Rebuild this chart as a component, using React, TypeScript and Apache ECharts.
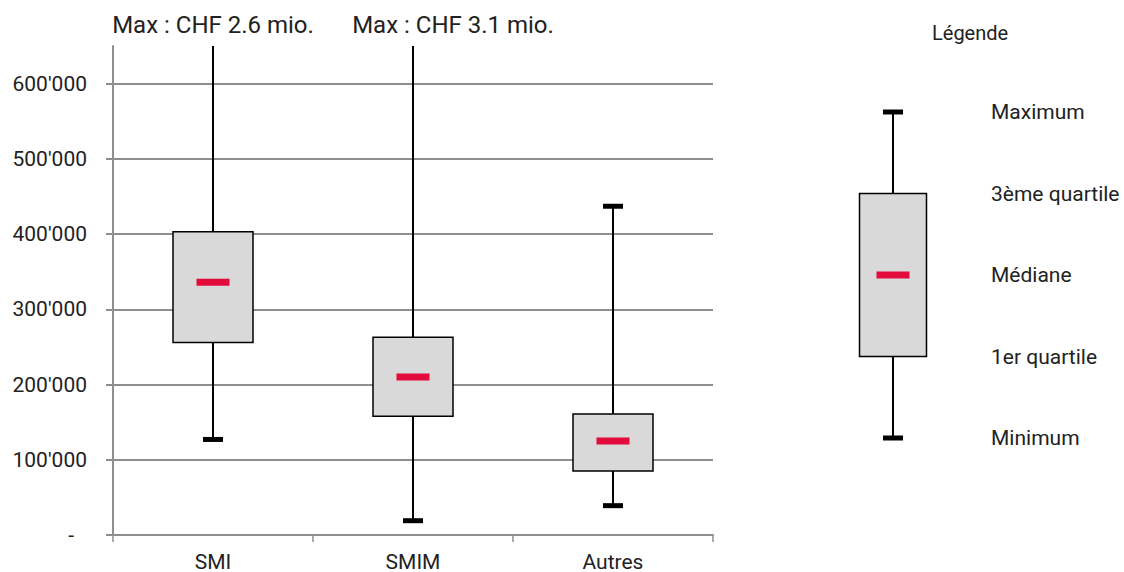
import React, { useEffect, useRef } from "react";
import * as echarts from "echarts";

// Categories and five-number summaries (CHF)
const categories = ["SMI", "SMIM", "Autres"];
const minimums = [127000, 19000, 39000];
const firstQuartiles = [256000, 158000, 85000];
const medians = [336000, 210000, 125000];
const thirdQuartiles = [403000, 263000, 161000];
const maximums = [2600000, 3100000, 437000];

// Value axis
const yMax = 650000;
const yTicks = [0, 100000, 200000, 300000, 400000, 500000, 600000];

// Key: sample box on a 0–100 scale with its labels
const legendStats = [0, 25, 50, 75, 100];
const legendLabels = ["Minimum", "1er quartile", "Médiane", "3ème quartile", "Maximum"];

// Horizontal offset of each "Max" note relative to its category
const noteOffsets = [0, 40, 0];

const FONT = "Roboto";
const TEXT = "#222222";
const GRID_GREY = "#8e8e8e";
const BOX_FILL = "#d9d9d9";
const MEDIAN_RED = "#e30b3c";

const fmtThousands = (v: number) =>
  String(Math.round(v)).replace(/\B(?=(\d{3})+(?!\d))/g, "'");

function makeRenderItem(boxFrac: number, axisMax: number, withNotes: boolean) {
  return (params: any, api: any) => {
    const cat = api.value(0);
    const vMin = api.value(1);
    const vQ1 = api.value(2);
    const vMed = api.value(3);
    const vQ3 = api.value(4);
    const vMax = api.value(5);
    const cs = params.coordSys;
    const band = api.size([1, 0])[0];
    const boxW = band * boxFrac;
    const [cx, yMin] = api.coord([cat, vMin]);
    const yQ1 = api.coord([cat, vQ1])[1];
    const yMed = api.coord([cat, vMed])[1];
    const yQ3 = api.coord([cat, vQ3])[1];
    const clipped = vMax > axisMax;
    const yMaxPx = clipped ? cs.y : api.coord([cat, vMax])[1];

    const children: any[] = [
      {
        type: "line",
        shape: { x1: cx, y1: yQ3, x2: cx, y2: yMaxPx },
        style: { stroke: "#000", lineWidth: 2 },
      },
      {
        type: "line",
        shape: { x1: cx, y1: yQ1, x2: cx, y2: yMin },
        style: { stroke: "#000", lineWidth: 2 },
      },
      {
        type: "rect",
        shape: { x: cx - boxW / 2, y: yQ3, width: boxW, height: yQ1 - yQ3 },
        style: { fill: BOX_FILL, stroke: "#000", lineWidth: 1.5 },
      },
      {
        type: "rect",
        shape: { x: cx - 16.5, y: yMed - 3.5, width: 33, height: 7 },
        style: { fill: MEDIAN_RED },
      },
      {
        type: "rect",
        shape: { x: cx - 10, y: yMin - 2.5, width: 20, height: 5 },
        style: { fill: "#000" },
      },
    ];
    if (!clipped) {
      children.push({
        type: "rect",
        shape: { x: cx - 10, y: yMaxPx - 2.5, width: 20, height: 5 },
        style: { fill: "#000" },
      });
    } else if (withNotes) {
      children.push({
        type: "text",
        x: cx + (noteOffsets[params.dataIndex] || 0),
        y: cs.y - 21,
        style: {
          text: `Max : CHF ${(vMax / 1e6).toFixed(1)} mio.`,
          fontFamily: FONT,
          fontSize: 24,
          fill: TEXT,
          align: "center",
          verticalAlign: "middle",
        },
      });
    }
    return { type: "group", children };
  };
}

export default function App() {
  const ref = useRef<HTMLDivElement>(null);

  useEffect(() => {
    if (!ref.current) return;
    const chart = echarts.init(ref.current, null, { renderer: "svg" });

    const mainData = categories.map((_, i) => [
      i,
      minimums[i],
      firstQuartiles[i],
      medians[i],
      thirdQuartiles[i],
      maximums[i],
    ]);
    const legendData = [[0, ...legendStats]];

    chart.setOption({
      animation: false,
      textStyle: { fontFamily: FONT, color: TEXT },
      graphic: [
        {
          type: "text",
          x: 932,
          y: 33,
          style: {
            text: "Légende",
            fontFamily: FONT,
            fontSize: 20,
            fill: TEXT,
            align: "left",
            verticalAlign: "middle",
          },
        },
      ],
      grid: [
        { left: 113, top: 46, width: 600, height: 489 },
        { left: 843, top: 112, width: 100, height: 326 },
      ],
      xAxis: [
        {
          type: "category",
          gridIndex: 0,
          data: categories,
          axisLine: { lineStyle: { color: GRID_GREY, width: 2 } },
          axisTick: { show: true, length: 7, lineStyle: { color: GRID_GREY, width: 1.5 } },
          axisLabel: { fontSize: 21, color: TEXT, margin: 16, fontFamily: FONT },
          splitLine: { show: false },
        },
        {
          type: "category",
          gridIndex: 1,
          data: [""],
          show: false,
        },
      ],
      yAxis: [
        {
          type: "value",
          gridIndex: 0,
          min: 0,
          max: yMax,
          interval: 100000,
          axisLine: { show: true, lineStyle: { color: GRID_GREY, width: 2 } },
          axisTick: {
            show: true,
            length: 7,
            customValues: yTicks,
            lineStyle: { color: GRID_GREY, width: 2 },
          },
          axisLabel: {
            customValues: yTicks,
            fontSize: 21,
            color: TEXT,
            margin: 26,
            fontFamily: FONT,
            formatter: (v: number) => (v === 0 ? "{dash|-}" : fmtThousands(v)),
            rich: {
              dash: { fontSize: 21, color: TEXT, fontFamily: FONT, padding: [0, 13, 0, 0] },
            },
          },
          splitLine: {
            show: true,
            showMinLine: false,
            lineStyle: { color: GRID_GREY, width: 2 },
          },
        },
        {
          type: "value",
          gridIndex: 1,
          position: "right",
          min: 0,
          max: 100,
          interval: 25,
          axisLine: { show: false },
          axisTick: { show: false },
          splitLine: { show: false },
          axisLabel: {
            fontSize: 21,
            color: TEXT,
            margin: 48,
            fontFamily: FONT,
            formatter: (v: number) => legendLabels[legendStats.indexOf(v)] ?? "",
          },
        },
      ],
      series: [
        {
          type: "custom",
          xAxisIndex: 0,
          yAxisIndex: 0,
          clip: false,
          renderItem: makeRenderItem(0.4, yMax, true),
          encode: { x: 0, y: [1, 2, 3, 4] },
          data: mainData,
        },
        {
          type: "custom",
          xAxisIndex: 1,
          yAxisIndex: 1,
          clip: false,
          renderItem: makeRenderItem(0.67, 100, false),
          encode: { x: 0, y: [1, 2, 3, 4, 5] },
          data: legendData,
        },
      ],
    });

    return () => chart.dispose();
  }, []);

  return (
    <div
      ref={ref}
      style={{ position: "absolute", left: 0, top: 0, width: 1124, height: 572, background: "#fff" }}
    />
  );
}
